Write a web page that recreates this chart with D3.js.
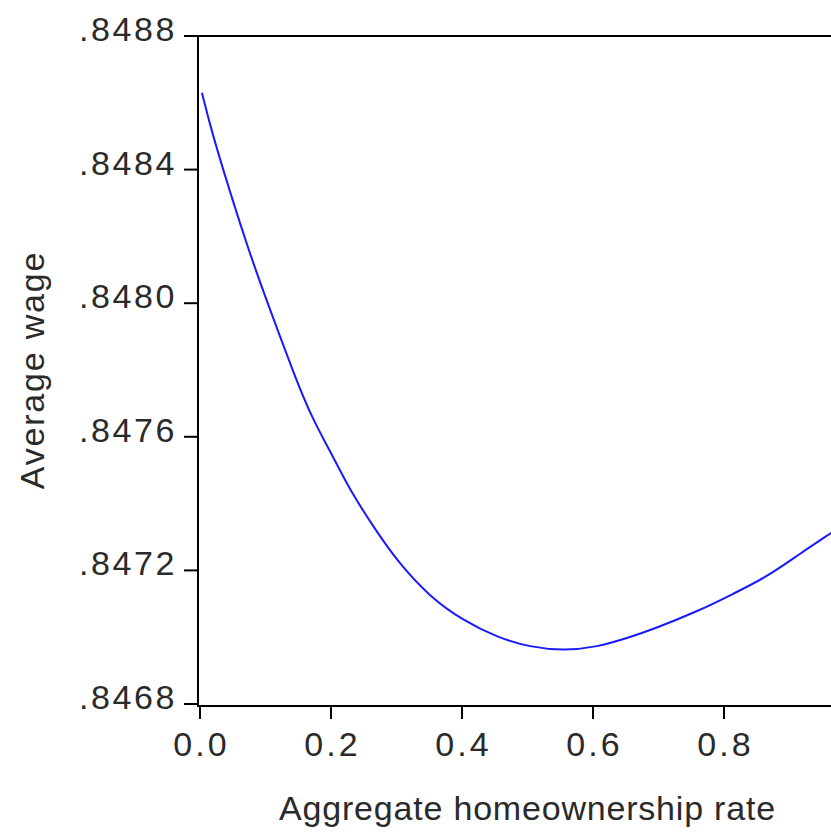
<!DOCTYPE html>
<html>
<head>
<meta charset="utf-8">
<script src="https://cdn.jsdelivr.net/npm/d3@7"></script>
<style>
  body { margin: 0; background: #fff; overflow: hidden; }
  text { font-family: "Liberation Sans", Arial, sans-serif; fill: #2a2a2a; }
</style>
</head>
<body>
<script>
// homeownership rate vs average wage
const rate = [0.003, 0.017, 0.043, 0.079, 0.109, 0.145, 0.170, 0.206, 0.229, 0.265,
  0.300, 0.351, 0.402, 0.453, 0.504, 0.555, 0.606, 0.656, 0.687, 0.763,
  0.814, 0.865, 0.916, 0.962, 1.0]
const wage = [0.84863, 0.84852, 0.84835, 0.84813, 0.84797, 0.84778, 0.84766, 0.84753, 0.84744, 0.84733,
  0.84723, 0.84712, 0.84705, 0.84700, 0.84697, 0.84696, 0.84697, 0.84700, 0.84702, 0.84708,
  0.84713, 0.84718, 0.84725, 0.84731, 0.84736]
const xTicks = [0, 0.2, 0.4, 0.6, 0.8]
const yTicks = [0.8468, 0.8472, 0.8476, 0.8480, 0.8484, 0.8488]

const width = 831, height = 836
const margin = {top: 36, bottom: 132, left: 200, right: -24}

const svg = d3.select('body')
.append('svg')
.attr('width', width)
.attr('height', height)

const x = d3.scaleLinear().domain([0, 1]).range([margin.left, width - margin.right])
const y = d3.scaleLinear().domain([0.8468, 0.8488]).range([height - margin.bottom, margin.top])

const x0 = x(0) - 2, y0 = y(0.8468) + 2

// frame
svg.append('path')
.attr('d', `M${x0},${y0}V${y(0.8488)}H${x(1)}V${y0}Z`)
.attr('fill', 'none')
.attr('stroke', '#000')
.attr('stroke-width', 2)

// y ticks
const yg = svg.append('g').selectAll('g').data(yTicks).join('g')
yg.append('line')
.attr('x1', x0 - 14).attr('x2', x0)
.attr('y1', (d) => y(d)).attr('y2', (d) => y(d))
.attr('stroke', '#000').attr('stroke-width', 2)
yg.append('text')
.attr('x', x0 - 21)
.attr('y', (d) => y(d) + 5)
.attr('text-anchor', 'end')
.attr('font-size', 34)
.attr('letter-spacing', 2.6)
.text((d) => d3.format('.4f')(d).replace(/^0/, ''))

// x ticks
const xg = svg.append('g').selectAll('g').data(xTicks).join('g')
xg.append('line')
.attr('x1', (d) => x(d)).attr('x2', (d) => x(d))
.attr('y1', y0).attr('y2', y0 + 13)
.attr('stroke', '#000').attr('stroke-width', 2)
xg.append('text')
.attr('x', (d) => x(d) + 1.5)
.attr('y', y0 + 50)
.attr('text-anchor', 'middle')
.attr('font-size', 34)
.attr('letter-spacing', 3)
.text((d) => d3.format('.1f')(d))

// axis titles
svg.append('text')
.attr('x', (x(0) + x(1)) / 2)
.attr('y', 820)
.attr('text-anchor', 'middle')
.attr('font-size', 34)
.attr('letter-spacing', 0.8)
.text('Aggregate homeownership rate')

svg.append('text')
.attr('transform', `translate(44,${(y(0.8468) + y(0.8488)) / 2}) rotate(-90)`)
.attr('text-anchor', 'middle')
.attr('font-size', 34)
.attr('letter-spacing', 1.8)
.text('Average wage')

// curve
const line = d3.line()
.x((d, i) => x(rate[i]))
.y((d) => y(d))
.curve(d3.curveBasis)

svg.append('path')
.datum(wage)
.attr('d', line)
.attr('fill', 'none')
.attr('stroke', '#1a1aff')
.attr('stroke-width', 2)
</script>
</body>
</html>
